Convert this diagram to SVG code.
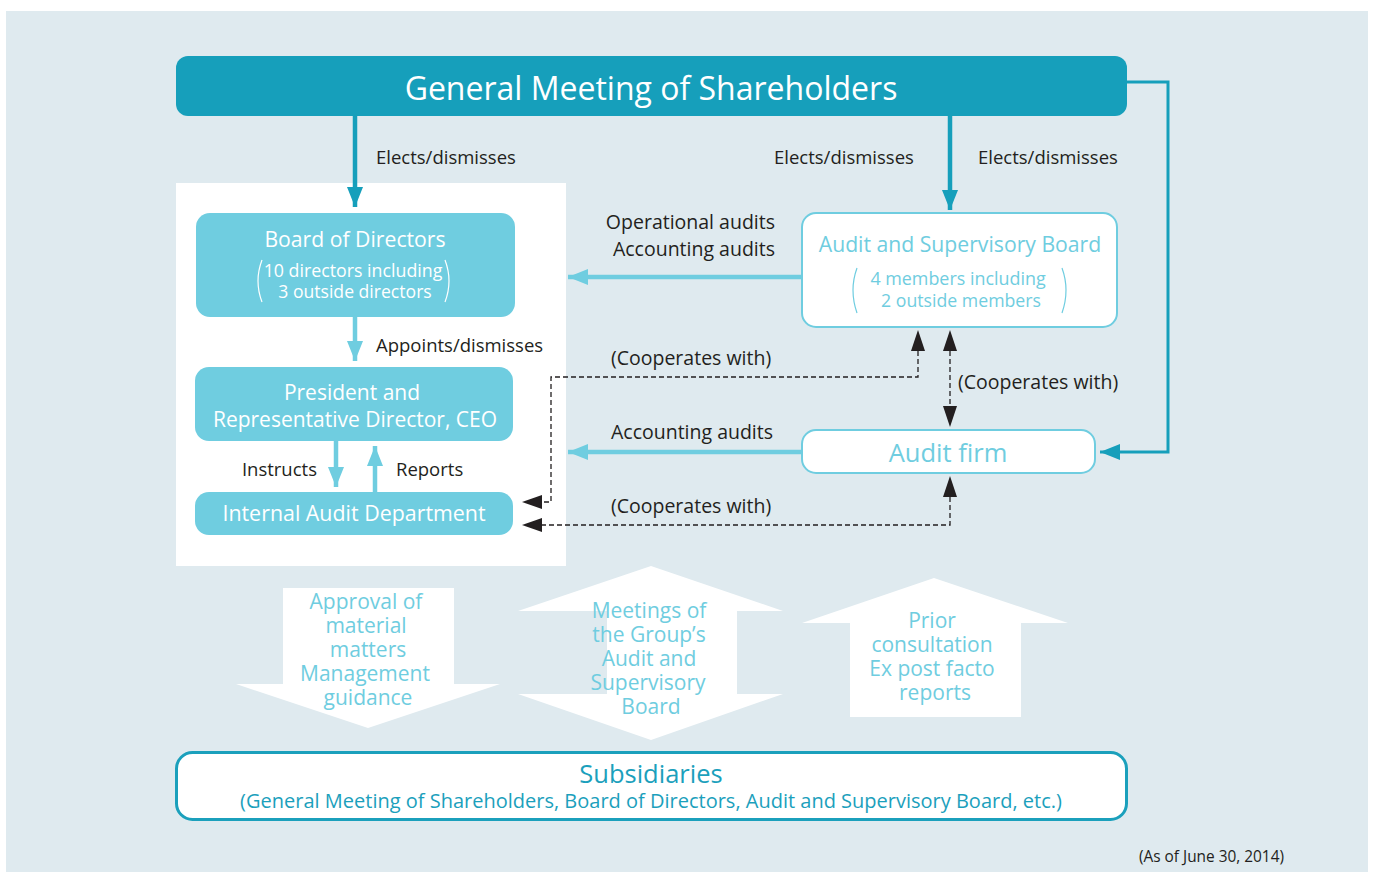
<svg xmlns="http://www.w3.org/2000/svg" width="1375" height="872" viewBox="0 0 1375 872">
<style>
text{font-family:"Open Sans","Noto Sans","Liberation Sans",sans-serif}
.lbl{font-size:18.5px;fill:#231f20}
.lbl2{font-size:19.5px;fill:#231f20}
.w{fill:#ffffff}
.lb{fill:#6fcde0}
.tl{fill:#1ba0bc}
.mid{text-anchor:middle}
.blk{font-size:21px}
.teal{stroke:#169fbb;stroke-width:4.5;fill:none}
.light{stroke:#6fcde0;stroke-width:4.5;fill:none}
.dash{stroke:#231f20;stroke-width:1.3;stroke-dasharray:5 3;fill:none}
.brk{stroke:#ffffff;stroke-width:1.2;fill:none}
.brk2{stroke:#6fcde0;stroke-width:1.2;fill:none}
</style>
<defs>
<marker id="mTeal" markerUnits="userSpaceOnUse" viewBox="0 0 20 16" refX="20" refY="8" markerWidth="20" markerHeight="16" orient="auto"><path d="M0,0 L20,8 L0,16 Z" fill="#169fbb"/></marker>
<marker id="mLight" markerUnits="userSpaceOnUse" viewBox="0 0 20 16" refX="20" refY="8" markerWidth="20" markerHeight="16" orient="auto"><path d="M0,0 L20,8 L0,16 Z" fill="#6fcde0"/></marker>
</defs>
<rect x="6" y="11" width="1362" height="861" fill="#dfeaef"/>
<rect x="176" y="183" width="390" height="383" fill="#ffffff"/>

<g id="connectors">
<line class="teal" x1="355" y1="116" x2="355" y2="207" marker-end="url(#mTeal)"/>
<line class="teal" x1="950" y1="116" x2="950" y2="210" marker-end="url(#mTeal)"/>
<polyline points="1127,82 1168,82 1168,452 1100,452" fill="none" stroke="#169fbb" stroke-width="3" marker-end="url(#mTeal)"/>
<line class="light" x1="355" y1="317" x2="355" y2="361" marker-end="url(#mLight)"/>
<line class="light" x1="336" y1="441" x2="336" y2="487" marker-end="url(#mLight)"/>
<line class="light" x1="375" y1="492" x2="375" y2="446" marker-end="url(#mLight)"/>
<line class="light" x1="802" y1="277" x2="568" y2="277" marker-end="url(#mLight)"/>
<line class="light" x1="802" y1="452" x2="568" y2="452" marker-end="url(#mLight)"/>
<polyline class="dash" points="918,351 918,377 551,377 551,502 541,502"/>
<path d="M918,330 L911,351 L925,351 Z" fill="#231f20"/>
<path d="M522,502 L542,495 L542,509 Z" fill="#231f20"/>
<line class="dash" x1="950" y1="351" x2="950" y2="406"/>
<path d="M950,330 L943,351 L957,351 Z" fill="#231f20"/>
<path d="M950,427 L943,406 L957,406 Z" fill="#231f20"/>
<polyline class="dash" points="950,497 950,525 541,525"/>
<path d="M950,476 L943,497 L957,497 Z" fill="#231f20"/>
<path d="M522,525 L542,518 L542,532 Z" fill="#231f20"/>
<text class="lbl" x="376" y="164">Elects/dismisses</text>
<text class="lbl" x="774" y="164">Elects/dismisses</text>
<text class="lbl" x="978" y="164">Elects/dismisses</text>
<text class="lbl2" x="775" y="229" text-anchor="end" font-size="19.2">Operational audits</text>
<text class="lbl2" x="775" y="256" text-anchor="end">Accounting audits</text>
<text class="lbl" x="376" y="352" font-size="18.8">Appoints/dismisses</text>
<text class="lbl2" x="611" y="365">(Cooperates with)</text>
<text class="lbl2" x="958" y="389">(Cooperates with)</text>
<text class="lbl2" x="611" y="439">Accounting audits</text>
<text class="lbl2" x="611" y="513">(Cooperates with)</text>
<text class="lbl" x="317" y="476" text-anchor="end">Instructs</text>
<text class="lbl" x="396" y="476">Reports</text>
</g>

<g id="gms">
<rect x="176" y="56" width="951" height="60" rx="12" fill="#169fbb"/>
<text class="w mid" x="651" y="100" font-size="32">General Meeting of Shareholders</text>
</g>

<g id="board">
<rect x="196" y="213" width="319" height="104" rx="14" fill="#6fcde0"/>
<text class="w mid" x="355" y="247" font-size="21.2">Board of Directors</text>
<text class="w mid" x="353" y="277" font-size="17.8">10 directors including</text>
<text class="w mid" x="355" y="298" font-size="17.6">3 outside directors</text>
<path class="brk" d="M262,260 Q254,281 262,302"/>
<path class="brk" d="M445,260 Q453,281 445,302"/>
</g>

<g id="president">
<rect x="195" y="367" width="318" height="74" rx="14" fill="#6fcde0"/>
<text class="w mid" x="352" y="400" font-size="21">President and</text>
<text class="w mid" x="355" y="427" font-size="21">Representative Director, CEO</text>
</g>

<g id="internal-audit">
<rect x="195" y="492" width="318" height="43" rx="14" fill="#6fcde0"/>
<text class="w mid" x="354" y="521" font-size="21.4">Internal Audit Department</text>
</g>

<g id="asb">
<rect x="802" y="213" width="315" height="114" rx="14" fill="#ffffff" stroke="#6fcde0" stroke-width="2"/>
<text class="lb mid" x="960" y="252" font-size="21.2">Audit and Supervisory Board</text>
<text class="lb mid" x="958" y="285" font-size="17.9">4 members including</text>
<text class="lb mid" x="961" y="307" font-size="17.7">2 outside members</text>
<path class="brk2" d="M857,268 Q849,290 857,313"/>
<path class="brk2" d="M1062,268 Q1070,290 1062,313"/>
</g>

<g id="audit-firm">
<rect x="802" y="430" width="293" height="43" rx="14" fill="#ffffff" stroke="#6fcde0" stroke-width="2"/>
<text class="lb mid" x="948" y="462" font-size="25.5">Audit firm</text>
</g>

<g id="arrow-approval">
<path d="M283,588 L454,588 L454,684 L500,684 L368,728 L236,684 L283,684 Z" fill="#ffffff"/>
<text class="lb mid blk"><tspan x="366" y="609">Approval of</tspan><tspan x="366" y="633">material</tspan><tspan x="368" y="657">matters</tspan><tspan x="365" y="681">Management</tspan><tspan x="368" y="705">guidance</tspan></text>
</g>

<g id="arrow-meetings">
<path d="M651,566 L783,611 L737,611 L737,694 L783,694 L651,740 L518,694 L607,694 L607,611 L518,611 Z" fill="#ffffff"/>
<text class="lb mid blk"><tspan x="649" y="618">Meetings of</tspan><tspan x="649" y="642">the Group’s</tspan><tspan x="649" y="666">Audit and</tspan><tspan x="648" y="690">Supervisory</tspan><tspan x="651" y="714">Board</tspan></text>
</g>

<g id="arrow-prior">
<path d="M934,578 L1068,623 L1021,623 L1021,717 L850,717 L850,623 L802,623 Z" fill="#ffffff"/>
<text class="lb mid blk"><tspan x="932" y="628">Prior</tspan><tspan x="932" y="652">consultation</tspan><tspan x="932" y="676">Ex post facto</tspan><tspan x="935" y="700">reports</tspan></text>
</g>

<g id="subsidiaries">
<rect x="176.5" y="752.5" width="950" height="67" rx="16" fill="#ffffff" stroke="#1ba0bc" stroke-width="3"/>
<text class="tl mid" x="651" y="783" font-size="25.5">Subsidiaries</text>
<text class="tl mid" x="651" y="808" font-size="20">(General Meeting of Shareholders, Board of Directors, Audit and Supervisory Board, etc.)</text>
</g>

<text x="1284" y="862" text-anchor="end" font-size="15.4" fill="#231f20">(As of June 30, 2014)</text>
</svg>
